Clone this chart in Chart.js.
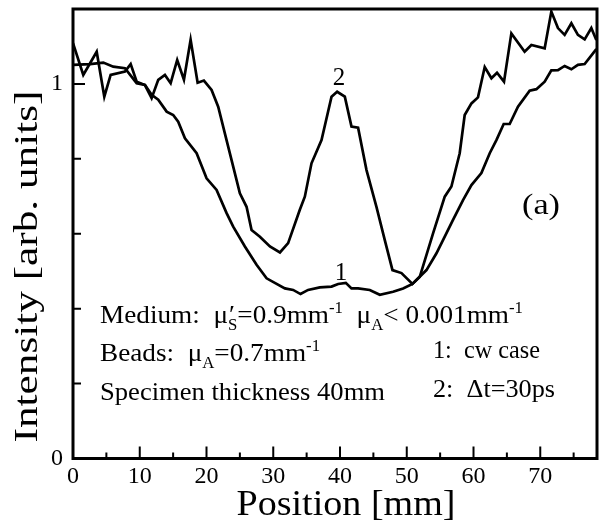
<!DOCTYPE html>
<html>
<head>
<meta charset="utf-8">
<script src="https://cdn.jsdelivr.net/npm/chart.js@4.4.1/dist/chart.umd.min.js"></script>
<style>
  html, body { margin: 0; padding: 0; background: #fff; }
  canvas { display: block; }
</style>
</head>
<body>
<canvas id="grafico" width="606" height="521"></canvas>
<script>
// curva 1: cw case (suave)
const pos1 = [0, 2.54, 4.54, 6.03, 7.78, 9.54, 10.78, 11.78, 12.77, 14.03, 15.01, 15.76, 16.77, 18.52,
  20.01, 21.51, 23.01, 24.0, 25.75, 27.5, 29.0, 31.74, 32.98, 34.09, 35.22, 36.98, 38.73, 39.72,
  40.87, 41.72, 42.71, 44.46, 45.96, 47.95, 49.45, 50.85, 52.95, 54.45, 55.43, 56.93, 58.43, 59.69,
  61.18, 62.43, 63.43, 64.52, 65.42, 66.66, 68.41, 69.42, 70.66, 71.66, 72.65, 73.65, 74.66, 75.64,
  76.65, 78.4];
const cw1 = [1.051, 1.053, 1.057, 1.046, 1.042, 1.002, 0.997, 0.971, 0.958, 0.926, 0.917, 0.899, 0.855, 0.815,
  0.748, 0.717, 0.655, 0.619, 0.566, 0.517, 0.481, 0.454, 0.450, 0.439, 0.450, 0.457, 0.459, 0.466,
  0.469, 0.454, 0.454, 0.450, 0.437, 0.445, 0.454, 0.466, 0.503, 0.548, 0.583, 0.637, 0.690, 0.730,
  0.762, 0.815, 0.850, 0.893, 0.893, 0.939, 0.982, 0.986, 1.006, 1.036, 1.037, 1.048, 1.039, 1.051,
  1.053, 1.093];

// curva 2: Δt = 30 ps (ruidosa)
const pos2 = [0, 1.54, 3.55, 4.69, 5.64, 7.78, 8.64, 9.54, 10.78, 11.78, 12.77, 13.77, 14.63, 15.61,
  16.62, 17.62, 18.67, 19.61, 20.76, 21.75, 22.75, 24.0, 25.0, 26.0, 26.75, 28.0, 29.5, 31.0, 32.23,
  33.98, 34.73, 35.73, 37.23, 38.73, 39.57, 40.72, 41.72, 42.71, 43.97, 45.46, 46.71, 47.86, 49.21,
  50.85, 51.95, 53.94, 55.69, 56.69, 57.93, 58.68, 59.69, 60.67, 61.68, 62.68, 63.52, 64.57, 65.67,
  67.66, 68.67, 70.66, 71.66, 72.65, 73.65, 74.66, 75.64, 76.65, 77.65, 78.4];
const dt2 = [1.109, 1.024, 1.086, 0.966, 1.024, 1.033, 1.053, 1.006, 0.997, 0.962, 1.011, 1.024, 1.002, 1.064,
  1.011, 1.118, 1.003, 1.009, 0.984, 0.939, 0.868, 0.779, 0.708, 0.672, 0.610, 0.592, 0.566, 0.550, 0.575,
  0.664, 0.699, 0.788, 0.850, 0.966, 0.979, 0.966, 0.886, 0.883, 0.770, 0.672, 0.583, 0.503, 0.495,
  0.466, 0.485, 0.601, 0.699, 0.726, 0.815, 0.917, 0.948, 0.964, 1.045, 1.015, 1.030, 1.006, 1.135,
  1.086, 1.104, 1.095, 1.193, 1.149, 1.131, 1.162, 1.131, 1.119, 1.149, 1.117];

const xLabels = [0, 10, 20, 30, 40, 50, 60, 70];
const yLabels = [0, 1];

const FONTE = "'Liberation Serif', 'Times New Roman', serif";

/* =======================
   TEXTO (com esticamento horizontal)
======================= */
function texto(ctx, str, x, y, size, largura, align) {
  ctx.font = size + "px " + FONTE;
  const w = ctx.measureText(str).width;
  const sx = largura ? largura / w : 1;
  ctx.save();
  ctx.translate(x, y);
  ctx.scale(sx, 1);
  ctx.textAlign = align || "left";
  ctx.textBaseline = "alphabetic";
  ctx.fillText(str, 0, 0);
  ctx.restore();
}

// segs: [texto, tipo, sobrescrito extra]
function textoRico(ctx, segs, x, y, size, largura) {
  const pequeno = Math.round(size * 0.62);
  const medir = (s, sz) => { ctx.font = sz + "px " + FONTE; return ctx.measureText(s).width; };
  let total = 0;
  segs.forEach(s => {
    if (!s[1]) total += medir(s[0], size);
    else total += Math.max(medir(s[0], pequeno), s[2] ? medir(s[2], size) : 0);
  });
  const sx = largura ? largura / total : 1;
  ctx.save();
  ctx.translate(x, y);
  ctx.scale(sx, 1);
  ctx.textAlign = "left";
  ctx.textBaseline = "alphabetic";
  let cx = 0;
  segs.forEach(s => {
    if (!s[1]) {
      ctx.font = size + "px " + FONTE;
      ctx.fillText(s[0], cx, 0);
      cx += ctx.measureText(s[0]).width;
    } else {
      ctx.font = pequeno + "px " + FONTE;
      const dy = s[1] === "sub" ? size * 0.28 : -size * 0.38;
      ctx.fillText(s[0], cx, dy);
      let w = ctx.measureText(s[0]).width;
      if (s[2]) {
        ctx.font = size + "px " + FONTE;
        ctx.fillText(s[2], cx + 1, 0);
        w = Math.max(w, ctx.measureText(s[2]).width);
      }
      cx += w;
    }
  });
  ctx.restore();
}

/* =======================
   MOLDURA, TICKS INTERNOS E ANOTAÇÕES
======================= */
const moldura = {
  id: "moldura",
  afterDraw(chart) {
    const ctx = chart.ctx;
    const a = chart.chartArea;
    const x = chart.scales.x, y = chart.scales.y;
    ctx.save();
    ctx.strokeStyle = "#000";
    ctx.fillStyle = "#000";

    // ticks para dentro
    ctx.lineWidth = 2;
    ctx.beginPath();
    x.ticks.forEach(t => {
      const v = t.value;
      if (Math.abs(v / 5 - Math.round(v / 5)) > 1e-6) return;
      const len = Math.round(v) % 10 === 0 ? 12 : 6;
      const px = x.getPixelForValue(v);
      ctx.moveTo(px, a.bottom);
      ctx.lineTo(px, a.bottom - len);
    });
    y.ticks.forEach(t => {
      const v = t.value;
      const len = Math.abs(v - 1) < 1e-6 ? 12 : 8;
      const py = y.getPixelForValue(v);
      ctx.moveTo(a.left, py);
      ctx.lineTo(a.left + len, py);
    });
    ctx.stroke();

    // moldura
    ctx.lineWidth = 3;
    ctx.strokeRect(a.left, a.top, a.right - a.left, a.bottom - a.top);

    // títulos dos eixos
    texto(ctx, "Position [mm]", 346, 515, 36, 219, "center");
    ctx.save();
    ctx.translate(37, 266.5);
    ctx.rotate(-Math.PI / 2);
    texto(ctx, "Intensity [arb. units]", 0, 0, 34, 352, "center");
    ctx.restore();

    // rótulos das curvas
    texto(ctx, "2", 339, 85, 25, null, "center");
    texto(ctx, "1", 341, 280, 25, null, "center");
    texto(ctx, "(a)", 541, 214, 30, 38, "center");

    // legenda de parâmetros
    textoRico(ctx, [["Medium:  "], ["μ"], ["S", "sub", "′"], ["=0.9mm"], ["-1", "sup"],
      ["  μ"], ["A", "sub"], ["< 0.001mm"], ["-1", "sup"]], 100, 323, 26, 423);
    textoRico(ctx, [["Beads:  μ"], ["A", "sub"], ["=0.7mm"], ["-1", "sup"]], 100, 361, 26, 220);
    textoRico(ctx, [["Specimen thickness 40mm"]], 100, 400, 26, 285);
    textoRico(ctx, [["1:  cw case"]], 433, 358, 26, 107);
    textoRico(ctx, [["2:  Δt=30ps"]], 433, 397, 26, 122);

    ctx.restore();
  }
};

/* =======================
   GRÁFICO
======================= */
const ctx = document.getElementById("grafico");

new Chart(ctx, {
  type: "line",
  data: {
    datasets: [
      {
        label: "1: cw case",
        data: pos1.map((x, i) => ({ x, y: cw1[i] })),
        borderColor: "#000",
        borderWidth: 2.7,
        pointRadius: 0,
        tension: 0,
        fill: false
      },
      {
        label: "2: Δt=30ps",
        data: pos2.map((x, i) => ({ x, y: dt2[i] })),
        borderColor: "#000",
        borderWidth: 2.7,
        pointRadius: 0,
        tension: 0,
        fill: false
      }
    ]
  },
  options: {
    responsive: false,
    animation: false,
    devicePixelRatio: 1,
    layout: { padding: { top: 9, right: 9, left: 0, bottom: 0 } },
    plugins: { legend: { display: false }, tooltip: { enabled: false } },
    scales: {
      x: {
        type: "linear",
        min: 0,
        max: 78.5,
        grid: { display: false, drawTicks: false },
        border: { display: false },
        ticks: {
          stepSize: 5,
          includeBounds: false,
          autoSkip: false,
          maxRotation: 0,
          padding: 4,
          color: "#000",
          font: { family: FONTE, size: 24 },
          callback: v => xLabels.includes(v) ? String(v) : ""
        },
        afterFit: s => {
          s.height = 62.5;
          s.paddingLeft = 0;
          s.paddingRight = 0;
        }
      },
      y: {
        min: 0,
        max: 1.2,
        grid: { display: false, drawTicks: false },
        border: { display: false },
        ticks: {
          stepSize: 0.2,
          autoSkip: false,
          padding: 10,
          color: "#000",
          font: { family: FONTE, size: 24 },
          callback: v => {
            const r = yLabels.find(l => Math.abs(l - v) < 1e-6);
            return r === undefined ? "" : String(r);
          }
        },
        afterFit: s => {
          s.width = 73;
          s.paddingTop = 0;
          s.paddingBottom = 0;
        }
      }
    }
  },
  plugins: [moldura]
});
</script>
</body>
</html>
